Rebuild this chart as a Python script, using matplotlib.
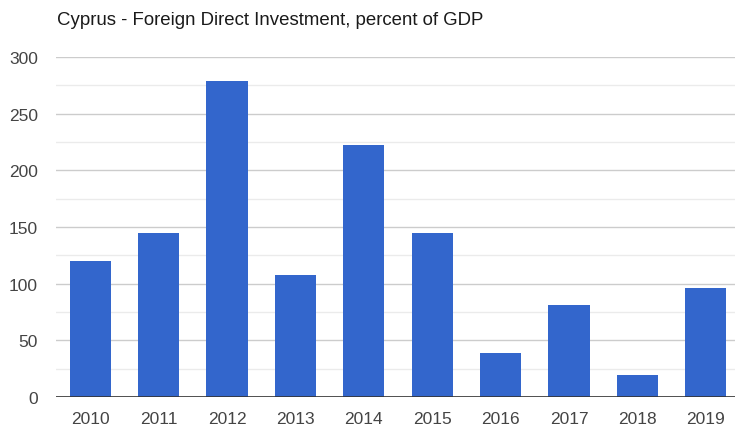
import matplotlib
matplotlib.use("Agg")
import matplotlib.pyplot as plt
import numpy as np

years = ["2010", "2011", "2012", "2013", "2014", "2015", "2016", "2017", "2018", "2019"]
values = [120, 145, 279, 108, 222, 145, 39, 81, 19, 96]
yticks = [0, 50, 100, 150, 200, 250, 300]
title = "Cyprus - Foreign Direct Investment, percent of GDP"

plt.rcParams['font.family'] = ['Liberation Sans', 'DejaVu Sans']

W, H = 735, 427
fig = plt.figure(figsize=(W / 100, H / 100), dpi=100)
left, right, bottom, top = 56, 740, 398, 58
ax = fig.add_axes([left / W, 1 - bottom / H, (right - left) / W, (bottom - top) / H])

x = np.arange(len(years))
ax.bar(x, values, width=0.6, color="#3366cc", zorder=3)
ax.set_xlim(-0.5, len(years) - 0.5)
ax.set_ylim(0, 300)
ax.set_yticks(yticks)
ax.set_yticks(np.arange(25, 300, 50), minor=True)
ax.set_xticks(x)
ax.set_xticklabels(years)
ax.grid(axis="y", which="major", color="#cccccc", linewidth=1, zorder=0)
ax.grid(axis="y", which="minor", color="#ebebeb", linewidth=1, zorder=0)
ax.axhline(0, color="#333333", linewidth=1.2, zorder=4)
for s in ax.spines.values():
    s.set_visible(False)
ax.tick_params(axis="both", which="both", length=0, labelsize=12.5, colors="#444444")
ax.tick_params(axis="y", pad=13)
ax.tick_params(axis="x", pad=10)

fig.text(57 / W, 1 - 25 / H, title, fontsize=13.4, color="#1a1a1a", ha="left", va="baseline")

fig.savefig("out.png", dpi=100)
